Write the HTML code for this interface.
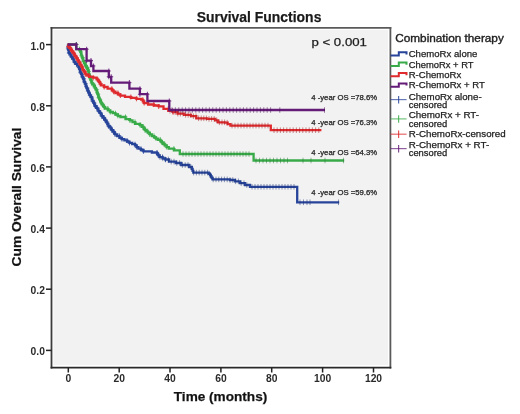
<!DOCTYPE html>
<html><head><meta charset="utf-8"><style>
html,body{margin:0;padding:0;background:#fff;width:520px;height:414px;overflow:hidden}
svg{display:block;filter:blur(0.3px)}
text{stroke:#222;stroke-width:0.25px}
</style></head><body>
<svg width="520" height="414" viewBox="0 0 520 414" font-family="Liberation Sans, sans-serif" >
<rect x="0" y="0" width="520" height="414" fill="#fff"/>
<rect x="53.5" y="30" width="334.5" height="335" fill="#f2f2f2"/>
<g stroke-width="1.8" fill="none">
<path d="M50.6 27.8H391.3" stroke="#5a5a5a"/>
<path d="M390.4 26.9V368.5" stroke="#5a5a5a"/>
<path d="M51.5 26.9V368.5" stroke="#3c3c3c"/>
<path d="M50.6 367.6H391.3" stroke="#2a2a2a"/>
</g>
<text x="44.9" y="49.6" font-size="10.3" font-weight="bold" text-anchor="end" fill="#2a2a2a" style="stroke-width:0">1.0</text><line x1="46" y1="44.6" x2="51.5" y2="44.6" stroke="#222" stroke-width="1.5"/><text x="44.9" y="110.8" font-size="10.3" font-weight="bold" text-anchor="end" fill="#2a2a2a" style="stroke-width:0">0.8</text><line x1="46" y1="105.8" x2="51.5" y2="105.8" stroke="#222" stroke-width="1.5"/><text x="44.9" y="171.9" font-size="10.3" font-weight="bold" text-anchor="end" fill="#2a2a2a" style="stroke-width:0">0.6</text><line x1="46" y1="166.9" x2="51.5" y2="166.9" stroke="#222" stroke-width="1.5"/><text x="44.9" y="233.1" font-size="10.3" font-weight="bold" text-anchor="end" fill="#2a2a2a" style="stroke-width:0">0.4</text><line x1="46" y1="228.1" x2="51.5" y2="228.1" stroke="#222" stroke-width="1.5"/><text x="44.9" y="294.2" font-size="10.3" font-weight="bold" text-anchor="end" fill="#2a2a2a" style="stroke-width:0">0.2</text><line x1="46" y1="289.2" x2="51.5" y2="289.2" stroke="#222" stroke-width="1.5"/><text x="44.9" y="355.4" font-size="10.3" font-weight="bold" text-anchor="end" fill="#2a2a2a" style="stroke-width:0">0.0</text><line x1="46" y1="350.4" x2="51.5" y2="350.4" stroke="#222" stroke-width="1.5"/>
<text x="68.3" y="382.4" font-size="10.3" font-weight="bold" text-anchor="middle" fill="#2a2a2a" style="stroke-width:0">0</text><line x1="68.3" y1="367.5" x2="68.3" y2="372.5" stroke="#222" stroke-width="1.5"/><text x="119.2" y="382.4" font-size="10.3" font-weight="bold" text-anchor="middle" fill="#2a2a2a" style="stroke-width:0">20</text><line x1="119.2" y1="367.5" x2="119.2" y2="372.5" stroke="#222" stroke-width="1.5"/><text x="170.0" y="382.4" font-size="10.3" font-weight="bold" text-anchor="middle" fill="#2a2a2a" style="stroke-width:0">40</text><line x1="170.0" y1="367.5" x2="170.0" y2="372.5" stroke="#222" stroke-width="1.5"/><text x="220.9" y="382.4" font-size="10.3" font-weight="bold" text-anchor="middle" fill="#2a2a2a" style="stroke-width:0">60</text><line x1="220.9" y1="367.5" x2="220.9" y2="372.5" stroke="#222" stroke-width="1.5"/><text x="271.7" y="382.4" font-size="10.3" font-weight="bold" text-anchor="middle" fill="#2a2a2a" style="stroke-width:0">80</text><line x1="271.7" y1="367.5" x2="271.7" y2="372.5" stroke="#222" stroke-width="1.5"/><text x="322.6" y="382.4" font-size="10.3" font-weight="bold" text-anchor="middle" fill="#2a2a2a" style="stroke-width:0">100</text><line x1="322.6" y1="367.5" x2="322.6" y2="372.5" stroke="#222" stroke-width="1.5"/><text x="373.5" y="382.4" font-size="10.3" font-weight="bold" text-anchor="middle" fill="#2a2a2a" style="stroke-width:0">120</text><line x1="373.5" y1="367.5" x2="373.5" y2="372.5" stroke="#222" stroke-width="1.5"/>
<g stroke-linecap="butt">
<path d="M67.7 44.5L67.9 44.5L67.9 48.0L68.2 48.0L68.2 49.6L68.6 49.6L68.6 51.3L68.9 51.3L68.9 52.9L69.8 52.9L69.8 54.4L70.7 54.4L70.7 55.8L71.6 55.8L71.6 57.2L72.5 57.2L72.5 58.7L73.5 58.7L73.5 60.4L74.4 60.4L74.4 62.1L75.4 62.1L75.4 63.8L77.1 63.8L77.1 65.7L78.8 65.7L78.8 67.5L79.4 67.5L79.4 69.2L79.9 69.2L79.9 70.9L80.5 70.9L80.5 72.6L81.2 72.6L81.2 74.1L81.8 74.1L81.8 75.5L82.4 75.5L82.4 77.0L83.1 77.0L83.1 78.5L83.7 78.5L83.7 80.2L84.3 80.2L84.3 81.9L85.0 81.9L85.0 83.6L85.6 83.6L85.6 85.3L86.2 85.3L86.2 86.7L86.7 86.7L86.7 88.1L87.3 88.1L87.3 89.5L87.9 89.5L87.9 90.9L88.4 90.9L88.4 92.3L89.0 92.3L89.0 93.7L89.9 93.7L89.9 95.4L90.8 95.4L90.8 97.1L91.7 97.1L91.7 99.0L92.5 99.0L92.5 101.0L93.4 101.0L93.4 102.7L94.2 102.7L94.2 104.4L95.1 104.4L95.1 106.1L96.2 106.1L96.2 107.8L97.4 107.8L97.4 109.4L98.5 109.4L98.5 111.1L99.6 111.1L99.6 112.8L100.7 112.8L100.7 114.5L101.8 114.5L101.8 116.2L102.9 116.2L102.9 117.6L104.1 117.6L104.1 119.0L105.2 119.0L105.2 120.4L106.3 120.4L106.3 122.3L107.3 122.3L107.3 124.1L108.4 124.1L108.4 126.0L109.5 126.0L109.5 127.4L110.7 127.4L110.7 128.8L111.8 128.8L111.8 130.2L112.9 130.2L112.9 131.6L114.0 131.6L114.0 133.0L115.1 133.0L115.1 134.4L117.2 134.4L117.2 136.1L119.4 136.1L119.4 137.8L121.9 137.8L121.9 139.1L124.4 139.1L124.4 140.4L127.0 140.4L127.0 141.7L129.5 141.7L129.5 142.9L132.2 142.9L132.2 144.2L135.0 144.2L135.0 145.4L136.7 145.4L136.7 147.1L138.4 147.1L138.4 148.7L140.9 148.7L140.9 150.0L143.5 150.0L143.5 151.3L151.9 151.3L151.9 152.5L157.0 152.5L157.0 153.8L158.3 153.8L158.3 155.4L159.6 155.4L159.6 157.1L162.5 157.1L162.5 158.3L165.4 158.3L165.4 159.5L169.0 159.5L169.0 161.6L175.8 161.6L175.8 163.0L181.2 163.0L181.2 165.0L189.2 165.0L189.2 167.0L191.9 167.0L191.9 169.0L192.6 169.0L192.6 170.8L193.3 170.8L193.3 172.6L207.5 172.6L207.5 172.6L208.8 172.6L208.8 173.8L210.0 173.8L210.0 175.0L210.8 175.0L210.8 176.5L211.7 176.5L211.7 177.9L212.5 177.9L212.5 179.4L230.0 179.4L230.0 180.0L235.0 180.0L235.0 181.3L240.0 181.3L240.0 183.1L245.0 183.1L245.0 185.0L250.0 185.0L250.0 186.8L297.2 186.8L297.2 186.8L297.2 186.8L297.2 202.3L339.2 202.3L339.2 202.3" stroke="#27449a" stroke-width="2.3" fill="none" stroke-linejoin="miter"/>
<path d="M160.0 154.3v5.6M162.8 155.5v5.6M165.6 156.7v5.6M168.4 156.7v5.6M171.2 158.8v5.6M174.0 158.8v5.6M176.8 160.2v5.6M179.6 160.2v5.6M182.4 162.2v5.6M185.2 162.2v5.6M188.0 162.2v5.6M190.8 164.2v5.6M193.6 169.8v5.6M196.4 169.8v5.6M199.2 169.8v5.6M202.0 169.8v5.6M204.8 169.8v5.6M207.6 169.8v5.6M210.4 172.2v5.6M213.2 176.6v5.6M216.0 176.6v5.6M218.8 176.6v5.6M221.6 176.6v5.6M224.4 176.6v5.6M227.2 176.6v5.6M230.0 177.2v5.6M232.8 177.2v5.6M235.6 178.5v5.6M238.4 178.5v5.6M241.2 180.3v5.6M244.0 180.3v5.6M246.8 182.2v5.6M252.0 184.0v5.6M255.0 184.0v5.6M258.0 184.0v5.6M261.0 184.0v5.6M264.0 184.0v5.6M267.0 184.0v5.6M270.0 184.0v5.6M273.0 184.0v5.6M276.0 184.0v5.6M279.0 184.0v5.6M282.0 184.0v5.6M285.0 184.0v5.6M288.0 184.0v5.6M291.0 184.0v5.6M294.0 184.0v5.6M300.0 199.5v5.6M303.5 199.5v5.6M307.0 199.5v5.6M310.0 199.5v5.6M338.5 199.5v5.6" stroke="#1c3070" stroke-width="1" fill="none" opacity="0.5"/>
<path d="M67.9 45.5v5M65.9 48.0h4M68.6 47.1v5M66.6 49.6h4M68.9 50.4v5M66.9 52.9h4M70.7 51.9v5M68.7 54.4h4M71.6 54.8v5M69.6 57.2h4M73.5 56.2v5M71.5 58.7h4M74.4 59.6v5M72.4 62.1h4M77.1 61.3v5M75.1 63.8h4M78.8 65.0v5M76.8 67.5h4M79.9 66.7v5M77.9 69.2h4M80.5 70.1v5M78.5 72.6h4M81.8 71.6v5M79.8 74.1h4M82.4 74.5v5M80.4 77.0h4M83.7 76.0v5M81.7 78.5h4M84.3 79.4v5M82.3 81.9h4M85.6 81.1v5M83.6 83.6h4M86.2 84.2v5M84.2 86.7h4M87.3 85.6v5M85.3 88.1h4M87.9 88.4v5M85.9 90.9h4M89.0 89.8v5M87.0 92.3h4M89.9 92.9v5M87.9 95.4h4M91.7 94.6v5M89.7 97.1h4M92.5 98.5v5M90.5 101.0h4M94.2 100.2v5M92.2 102.7h4M95.1 103.6v5M93.1 106.1h4M97.4 105.3v5M95.4 107.8h4M98.5 108.6v5M96.5 111.1h4M100.7 110.3v5M98.7 112.8h4M101.8 113.7v5M99.8 116.2h4M104.1 115.1v5M102.1 117.6h4M105.2 117.9v5M103.2 120.4h4M107.3 119.8v5M105.3 122.3h4M108.4 123.5v5M106.4 126.0h4M110.7 124.9v5M108.7 127.4h4M111.8 127.7v5M109.8 130.2h4M114.0 129.1v5M112.0 131.6h4M115.1 131.9v5M113.1 134.4h4M119.4 133.6v5M117.4 136.1h4M121.9 136.6v5M119.9 139.1h4M127.0 137.9v5M125.0 140.4h4M129.5 140.4v5M127.5 142.9h4M135.0 141.7v5M133.0 144.2h4M136.7 144.6v5M134.7 147.1h4M140.9 146.2v5M138.9 148.7h4M143.5 148.8v5M141.5 151.3h4M157.0 150.0v5M155.0 152.5h4M158.3 152.9v5M156.3 155.4h4M162.5 154.6v5M160.5 157.1h4M165.4 157.0v5M163.4 159.5h4" stroke="#27449a" stroke-width="1.1" fill="none" opacity="0.8"/>
<path d="M67.7 44.5L76.3 44.5L76.3 44.5L76.3 44.5L76.3 49.2L79.5 49.2L79.5 49.2L80.0 49.2L80.0 50.6L80.5 50.6L80.5 52.0L81.0 52.0L81.0 53.8L81.5 53.8L81.5 55.7L82.0 55.7L82.0 57.5L82.7 57.5L82.7 59.3L83.4 59.3L83.4 61.2L84.1 61.2L84.1 63.0L84.9 63.0L84.9 64.5L85.7 64.5L85.7 66.0L86.5 66.0L86.5 67.5L87.3 67.5L87.3 68.8L88.1 68.8L88.1 70.1L88.4 70.1L88.4 71.5L88.7 71.5L88.7 72.9L89.0 72.9L89.0 74.3L89.4 74.3L89.4 75.8L89.8 75.8L89.8 77.2L90.3 77.2L90.3 78.7L90.7 78.7L90.7 80.2L91.3 80.2L91.3 81.6L91.8 81.6L91.8 83.0L92.4 83.0L92.4 84.4L93.7 84.4L93.7 86.1L94.9 86.1L94.9 87.8L95.8 87.8L95.8 89.5L96.6 89.5L96.6 91.2L97.1 91.2L97.1 92.7L97.6 92.7L97.6 94.2L98.2 94.2L98.2 95.9L98.7 95.9L98.7 97.6L99.3 97.6L99.3 99.3L100.1 99.3L100.1 101.0L101.0 101.0L101.0 102.7L101.8 102.7L101.8 104.4L102.9 104.4L102.9 105.8L104.1 105.8L104.1 107.2L105.2 107.2L105.2 108.6L107.8 108.6L107.8 110.3L110.3 110.3L110.3 112.0L112.8 112.0L112.8 113.2L115.4 113.2L115.4 114.5L117.9 114.5L117.9 115.8L120.4 115.8L120.4 117.0L125.5 117.0L125.5 119.2L130.0 119.2L130.0 120.4L132.5 120.4L132.5 122.1L135.0 122.1L135.0 123.8L140.1 123.8L140.1 125.1L141.8 125.1L141.8 126.8L143.5 126.8L143.5 128.5L144.9 128.5L144.9 129.9L146.3 129.9L146.3 131.3L147.7 131.3L147.7 132.7L149.8 132.7L149.8 134.4L151.9 134.4L151.9 136.1L154.0 136.1L154.0 137.3L156.1 137.3L156.1 138.6L158.2 138.6L158.2 139.8L160.4 139.8L160.4 141.1L161.8 141.1L161.8 142.5L163.2 142.5L163.2 144.0L164.6 144.0L164.6 145.4L166.7 145.4L166.7 147.1L168.8 147.1L168.8 148.7L173.9 148.7L173.9 150.4L179.8 150.4L179.8 150.9L179.8 150.9L179.8 154.0L253.6 154.0L253.6 154.0L253.6 154.0L253.6 160.5L344.2 160.5L344.2 160.5" stroke="#38ab48" stroke-width="2.3" fill="none" stroke-linejoin="miter"/>
<path d="M183.0 151.2v5.6M186.0 151.2v5.6M189.0 151.2v5.6M192.0 151.2v5.6M195.0 151.2v5.6M198.0 151.2v5.6M201.0 151.2v5.6M204.0 151.2v5.6M207.0 151.2v5.6M210.0 151.2v5.6M213.0 151.2v5.6M216.0 151.2v5.6M219.0 151.2v5.6M222.0 151.2v5.6M225.0 151.2v5.6M228.0 151.2v5.6M231.0 151.2v5.6M234.0 151.2v5.6M237.0 151.2v5.6M240.0 151.2v5.6M243.0 151.2v5.6M246.0 151.2v5.6M249.0 151.2v5.6M256.0 157.7v5.6M259.5 157.7v5.6M263.0 157.7v5.6M266.5 157.7v5.6M270.0 157.7v5.6M273.5 157.7v5.6M277.0 157.7v5.6M280.5 157.7v5.6M284.0 157.7v5.6M287.5 157.7v5.6M303.0 157.7v5.6M311.0 157.7v5.6M325.0 157.7v5.6M343.5 157.7v5.6" stroke="#2a7a36" stroke-width="1" fill="none" opacity="0.5"/>
<path d="M76.3 42.0v5M74.3 44.5h4M79.5 46.7v5M77.5 49.2h4M80.0 48.1v5M78.0 50.6h4M81.0 49.5v5M79.0 52.0h4M81.5 53.2v5M79.5 55.7h4M82.7 55.0v5M80.7 57.5h4M83.4 58.7v5M81.4 61.2h4M84.9 60.5v5M82.9 63.0h4M85.7 63.5v5M83.7 66.0h4M87.3 65.0v5M85.3 67.5h4M88.1 67.6v5M86.1 70.1h4M88.7 69.0v5M86.7 71.5h4M89.0 71.8v5M87.0 74.3h4M89.8 73.3v5M87.8 75.8h4M90.3 76.2v5M88.3 78.7h4M91.3 77.7v5M89.3 80.2h4M91.8 80.5v5M89.8 83.0h4M93.7 81.9v5M91.7 84.4h4M94.9 85.3v5M92.9 87.8h4M96.6 87.0v5M94.6 89.5h4M97.1 90.2v5M95.1 92.7h4M98.2 91.7v5M96.2 94.2h4M98.7 95.1v5M96.7 97.6h4M100.1 96.8v5M98.1 99.3h4M101.0 100.2v5M99.0 102.7h4M102.9 101.9v5M100.9 104.4h4M104.1 104.7v5M102.1 107.2h4M107.8 106.1v5M105.8 108.6h4M110.3 109.5v5M108.3 112.0h4M115.4 110.8v5M113.4 113.2h4M117.9 113.2v5M115.9 115.8h4M125.5 114.5v5M123.5 117.0h4M130.0 117.9v5M128.0 120.4h4M135.0 119.6v5M133.0 122.1h4M140.1 122.6v5M138.1 125.1h4M143.5 124.3v5M141.5 126.8h4M144.9 127.4v5M142.9 129.9h4M147.7 128.8v5M145.7 131.3h4M149.8 131.9v5M147.8 134.4h4M154.0 133.6v5M152.0 136.1h4M156.1 136.1v5M154.1 138.6h4M160.4 137.3v5M158.4 139.8h4M161.8 140.0v5M159.8 142.5h4M164.6 141.5v5M162.6 144.0h4M166.7 144.6v5M164.7 147.1h4M173.9 146.2v5M171.9 148.7h4" stroke="#38ab48" stroke-width="1.1" fill="none" opacity="0.8"/>
<path d="M67.7 44.5L68.2 44.5L68.2 46.5L69.5 46.5L69.5 48.2L70.7 48.2L70.7 49.8L72.0 49.8L72.0 51.5L73.0 51.5L73.0 53.0L74.0 53.0L74.0 54.5L75.0 54.5L75.0 56.0L76.0 56.0L76.0 57.5L76.9 57.5L76.9 59.0L77.8 59.0L77.8 60.5L78.7 60.5L78.7 62.0L79.6 62.0L79.6 63.5L80.5 63.5L80.5 65.0L81.4 65.0L81.4 66.7L82.2 66.7L82.2 68.4L83.1 68.4L83.1 70.1L83.9 70.1L83.9 71.5L84.8 71.5L84.8 72.9L85.6 72.9L85.6 74.3L87.3 74.3L87.3 75.5L89.0 75.5L89.0 76.8L93.2 76.8L93.2 77.7L96.6 77.7L96.6 79.4L97.8 79.4L97.8 80.7L99.1 80.7L99.1 81.9L99.9 81.9L99.9 83.6L100.8 83.6L100.8 85.3L104.2 85.3L104.2 87.0L107.6 87.0L107.6 88.7L111.8 88.7L111.8 90.4L113.6 90.4L113.6 91.7L115.4 91.7L115.4 93.0L117.9 93.0L117.9 94.3L120.4 94.3L120.4 95.6L125.0 95.6L125.0 96.9L130.8 96.9L130.8 97.8L136.5 97.8L136.5 98.8L141.3 98.8L141.3 99.7L142.8 99.7L142.8 101.4L144.2 101.4L144.2 103.1L148.1 103.1L148.1 104.5L153.8 104.5L153.8 105.5L158.7 105.5L158.7 106.4L163.5 106.4L163.5 108.8L168.3 108.8L168.3 110.8L173.1 110.8L173.1 112.2L177.5 112.2L177.5 113.6L184.2 113.6L184.2 114.9L191.0 114.9L191.0 116.2L196.3 116.2L196.3 118.3L207.1 118.3L207.1 118.9L215.2 118.9L215.2 120.3L217.9 120.3L217.9 122.3L225.0 122.3L225.0 122.7L227.7 122.7L227.7 124.2L230.4 124.2L230.4 125.6L270.8 125.6L270.8 125.6L270.8 125.6L270.8 130.2L321.4 130.2L321.4 130.2" stroke="#df2a2e" stroke-width="2.3" fill="none" stroke-linejoin="miter"/>
<path d="M170.0 108.0v5.6M172.6 108.0v5.6M175.2 109.4v5.6M177.8 110.8v5.6M180.4 110.8v5.6M183.0 110.8v5.6M185.6 112.1v5.6M188.2 112.1v5.6M190.8 112.1v5.6M193.4 113.4v5.6M196.0 113.4v5.6M198.6 115.5v5.6M201.2 115.5v5.6M203.8 115.5v5.6M206.4 115.5v5.6M209.0 116.1v5.6M211.6 116.1v5.6M214.2 116.1v5.6M216.8 117.5v5.6M219.4 119.5v5.6M222.0 119.5v5.6M224.6 119.5v5.6M227.2 119.9v5.6M232.0 122.8v5.6M235.0 122.8v5.6M238.0 122.8v5.6M241.0 122.8v5.6M244.0 122.8v5.6M247.0 122.8v5.6M250.0 122.8v5.6M253.0 122.8v5.6M256.0 122.8v5.6M259.0 122.8v5.6M262.0 122.8v5.6M265.0 122.8v5.6M268.0 122.8v5.6M274.0 127.4v5.6M277.2 127.4v5.6M280.4 127.4v5.6M283.6 127.4v5.6M286.8 127.4v5.6M290.0 127.4v5.6M293.2 127.4v5.6M296.4 127.4v5.6M299.6 127.4v5.6M302.8 127.4v5.6M306.0 127.4v5.6M309.2 127.4v5.6M312.4 127.4v5.6M315.6 127.4v5.6M318.8 127.4v5.6" stroke="#a01c20" stroke-width="1" fill="none" opacity="0.5"/>
<path d="M68.2 44.0v5M66.2 46.5h4M70.7 45.7v5M68.7 48.2h4M72.0 49.0v5M70.0 51.5h4M74.0 50.5v5M72.0 53.0h4M75.0 53.5v5M73.0 56.0h4M76.9 55.0v5M74.9 57.5h4M77.8 58.0v5M75.8 60.5h4M79.6 59.5v5M77.6 62.0h4M80.5 62.5v5M78.5 65.0h4M82.2 64.2v5M80.2 66.7h4M83.1 67.6v5M81.1 70.1h4M84.8 69.0v5M82.8 71.5h4M85.6 71.8v5M83.6 74.3h4M89.0 73.0v5M87.0 75.5h4M93.2 75.2v5M91.2 77.7h4M97.8 76.9v5M95.8 79.4h4M99.1 79.4v5M97.1 81.9h4M100.8 81.1v5M98.8 83.6h4M104.2 84.5v5M102.2 87.0h4M111.8 86.2v5M109.8 88.7h4M113.6 89.2v5M111.6 91.7h4M117.9 90.5v5M115.9 93.0h4M120.4 93.1v5M118.4 95.6h4M130.8 94.4v5M128.8 96.9h4M136.5 96.3v5M134.5 98.8h4M142.8 97.2v5M140.8 99.7h4M144.2 100.6v5M142.2 103.1h4M153.8 102.0v5M151.8 104.5h4M158.7 103.9v5M156.7 106.4h4M168.3 106.3v5M166.3 108.8h4M173.1 109.7v5M171.1 112.2h4" stroke="#df2a2e" stroke-width="1.1" fill="none" opacity="0.8"/>
<path d="M67.7 44.5L76.3 44.5L76.3 44.5L76.3 44.5L76.3 49.2L86.6 49.2L86.6 49.2L86.6 49.2L86.6 60.6L91.0 60.6L91.0 60.6L91.0 60.6L91.0 66.0L93.4 66.0L93.4 66.0L93.4 66.0L93.4 71.0L108.8 71.0L108.8 71.0L108.8 71.0L108.8 76.8L111.2 76.8L111.2 76.8L111.2 76.8L111.2 82.6L129.4 82.6L129.4 82.6L129.4 82.6L129.4 88.7L139.9 88.7L139.9 88.7L139.9 88.7L139.9 94.2L147.4 94.2L147.4 94.2L147.4 94.2L147.4 101.0L169.3 101.0L169.3 101.0L169.3 101.0L169.3 110.0L325.0 110.0L325.0 110.0" stroke="#641c78" stroke-width="2.3" fill="none" stroke-linejoin="miter"/>
<path d="M172.0 107.2v5.6M175.4 107.2v5.6M178.8 107.2v5.6M182.2 107.2v5.6M185.6 107.2v5.6M189.0 107.2v5.6M192.4 107.2v5.6M195.8 107.2v5.6M199.2 107.2v5.6M202.6 107.2v5.6M206.0 107.2v5.6M209.4 107.2v5.6M212.8 107.2v5.6M216.2 107.2v5.6M219.6 107.2v5.6M223.0 107.2v5.6M226.4 107.2v5.6M229.8 107.2v5.6M233.2 107.2v5.6M236.6 107.2v5.6M240.0 107.2v5.6M243.4 107.2v5.6M246.8 107.2v5.6M250.2 107.2v5.6M253.6 107.2v5.6M257.0 107.2v5.6M260.4 107.2v5.6M263.8 107.2v5.6M267.2 107.2v5.6M270.6 107.2v5.6M279.8 107.2v5.6M324.5 107.2v5.6" stroke="#4a1058" stroke-width="1" fill="none" opacity="0.5"/>
<path d="M76.3 42.0v5M74.3 44.5h4M86.6 46.7v5M84.6 49.2h4M86.6 58.1v5M84.6 60.6h4M91.0 58.1v5M89.0 60.6h4M93.4 63.5v5M91.4 66.0h4M108.8 68.5v5M106.8 71.0h4M108.8 74.3v5M106.8 76.8h4M111.2 74.3v5M109.2 76.8h4M129.4 80.1v5M127.4 82.6h4M139.9 86.2v5M137.9 88.7h4M139.9 91.7v5M137.9 94.2h4M147.4 91.7v5M145.4 94.2h4M169.3 98.5v5M167.3 101.0h4" stroke="#641c78" stroke-width="1.1" fill="none" opacity="0.8"/>

</g>
<text x="196.7" y="21.5" font-size="15.5" font-weight="bold" textLength="124.7" lengthAdjust="spacingAndGlyphs" fill="#1a1a1a">Survival Functions</text><text x="311.5" y="46.2" font-size="11" textLength="55.4" lengthAdjust="spacingAndGlyphs" fill="#1a1a1a">p &lt; 0.001</text><text x="173.8" y="401.2" font-size="13.5" font-weight="bold" textLength="93.5" lengthAdjust="spacingAndGlyphs" fill="#111">Time (months)</text><text transform="translate(21.3,266.4) rotate(-90)" x="0" y="0" font-size="13.5" font-weight="bold" textLength="138.7" lengthAdjust="spacingAndGlyphs" fill="#111">Cum Overall Survival</text><text x="311.2" y="100.4" font-size="7.6" textLength="66" lengthAdjust="spacingAndGlyphs" fill="#222">4 -year OS =78.6%</text><text x="311.2" y="125.3" font-size="7.6" textLength="66" lengthAdjust="spacingAndGlyphs" fill="#222">4 -year OS =76.3%</text><text x="311.2" y="154.6" font-size="7.6" textLength="66" lengthAdjust="spacingAndGlyphs" fill="#222">4 -year OS =64.3%</text><text x="311.2" y="194.6" font-size="7.6" textLength="66" lengthAdjust="spacingAndGlyphs" fill="#222">4 -year OS =59.6%</text>
<text x="395.3" y="42.2" font-size="10.4" textLength="108.5" lengthAdjust="spacingAndGlyphs" fill="#222" style="stroke-width:0.35px">Combination therapy</text><text x="408.7" y="57.2" font-size="9.4" textLength="68.7" lengthAdjust="spacingAndGlyphs" fill="#222">ChemoRx alone</text><path d="M390.5 55.5H398.8V52.2H406.5V54.4" stroke="#27449a" stroke-width="2" fill="none"/><text x="408.7" y="67.6" font-size="9.4" textLength="64.8" lengthAdjust="spacingAndGlyphs" fill="#222">ChemoRx + RT</text><path d="M390.5 65.9H398.8V62.6H406.5V64.8" stroke="#38ab48" stroke-width="2" fill="none"/><text x="408.7" y="78.0" font-size="9.4" textLength="52.5" lengthAdjust="spacingAndGlyphs" fill="#222">R-ChemoRx</text><path d="M390.5 76.3H398.8V73.0H406.5V75.2" stroke="#df2a2e" stroke-width="2" fill="none"/><text x="408.7" y="88.4" font-size="9.4" textLength="76.2" lengthAdjust="spacingAndGlyphs" fill="#222">R-ChemoRx + RT</text><path d="M390.5 86.7H398.8V83.4H406.5V85.6" stroke="#641c78" stroke-width="2" fill="none"/><text x="408.7" y="100.0" font-size="9.4" fill="#222" textLength="73.0" lengthAdjust="spacingAndGlyphs">ChemoRx alone-</text><text x="408.7" y="107.9" font-size="9.4" fill="#222" textLength="38.6" lengthAdjust="spacingAndGlyphs">censored</text><line x1="390.5" y1="99.6" x2="406.6" y2="99.6" stroke="#27449a" stroke-width="1.2" opacity="0.7"/><line x1="398.6" y1="96.0" x2="398.6" y2="103.4" stroke="#27449a" stroke-width="1.2" opacity="0.8"/><text x="408.7" y="118.0" font-size="9.4" fill="#222" textLength="70.4" lengthAdjust="spacingAndGlyphs">ChemoRx + RT-</text><text x="408.7" y="126.7" font-size="9.4" fill="#222" textLength="38.6" lengthAdjust="spacingAndGlyphs">censored</text><line x1="390.5" y1="118.9" x2="406.6" y2="118.9" stroke="#38ab48" stroke-width="1.2" opacity="0.7"/><line x1="398.6" y1="115.3" x2="398.6" y2="122.7" stroke="#38ab48" stroke-width="1.2" opacity="0.8"/><text x="408.7" y="136.7" font-size="9.4" fill="#222" textLength="97.0" lengthAdjust="spacingAndGlyphs">R-ChemoRx-censored</text><line x1="390.5" y1="134.2" x2="406.6" y2="134.2" stroke="#df2a2e" stroke-width="1.2" opacity="0.7"/><line x1="398.6" y1="130.6" x2="398.6" y2="138.0" stroke="#df2a2e" stroke-width="1.2" opacity="0.8"/><text x="408.7" y="148.4" font-size="9.4" fill="#222" textLength="80.5" lengthAdjust="spacingAndGlyphs">R-ChemoRx + RT-</text><text x="408.7" y="156.1" font-size="9.4" fill="#222" textLength="38.6" lengthAdjust="spacingAndGlyphs">censored</text><line x1="390.5" y1="148.6" x2="406.6" y2="148.6" stroke="#641c78" stroke-width="1.2" opacity="0.7"/><line x1="398.6" y1="145.0" x2="398.6" y2="152.4" stroke="#641c78" stroke-width="1.2" opacity="0.8"/>
</svg>
</body></html>
